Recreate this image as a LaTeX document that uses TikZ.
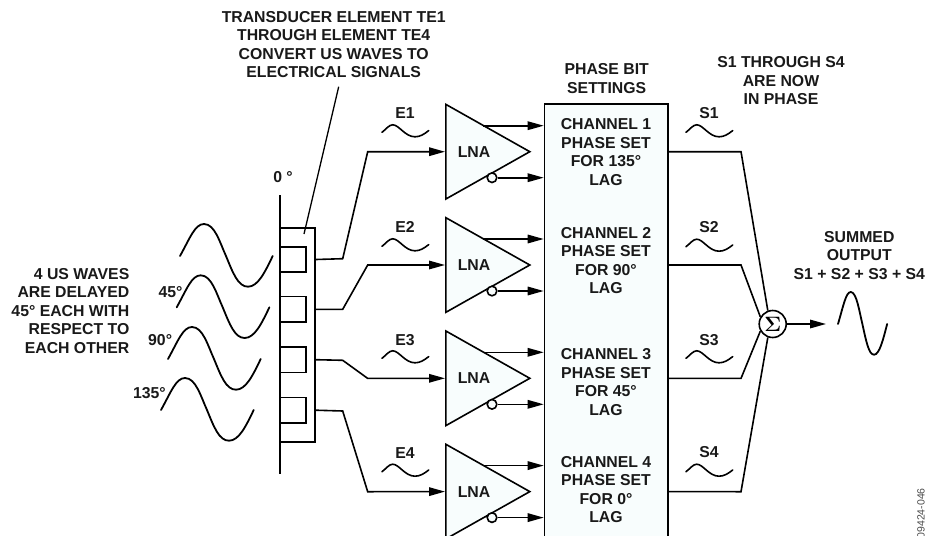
\documentclass[tikz,border=0pt]{standalone}
\usepackage{fontspec}
\setmainfont{Liberation Sans}
\usetikzlibrary{positioning,arrows.meta,shapes.geometric,calc}
\definecolor{myAzure}{RGB}{248,253,253}
\tikzset{
  wire/.style={line width=1.6pt,draw=black},
  signal/.style={wire,-{Triangle[length=16pt,width=8.5pt]}},
  txt/.style={font=\bfseries\fontsize{15.8}{18.5}\selectfont,align=center,inner sep=0pt,text=black!90},
  lna/.style={wire,fill=myAzure,shape=isosceles triangle,isosceles triangle stretches,
    minimum height=84pt,minimum width=94.7pt,inner sep=0pt,anchor=lower side},
  bubble/.style={wire,circle,fill=myAzure,minimum size=9.6pt,inner sep=0pt},
  element/.style={wire,rectangle,minimum width=26pt,minimum height=25.4pt,inner sep=0pt},
  usWave/.pic={\draw[line width=1.8pt,line cap=round] (0,0) .. controls (10,-18) and (15,-32) .. (24,-32)
    .. controls (35,-32) and (40,-13) .. (46,0) .. controls (53,17) and (58,30.7) .. (68,30.7)
    .. controls (78,30.7) and (85,16) .. (92.7,0);},
  tildeWave/.pic={\draw[line width=1.6pt,line cap=round] (0,0) .. controls (4,-3) and (7,-7.5) .. (10.7,-7.5)
    .. controls (17,-7.5) and (23,4.5) .. (33,4.5) .. controls (38,4.5) and (42,2) .. (46.7,-1.7);}
}
\begin{document}
\begin{tikzpicture}[x=1pt,y=-1pt,node distance=113.3pt]
  \useasboundingbox (0,0) rectangle (925,535);
  \coordinate (a1) at (445,151.7);
  \coordinate[below=of a1] (a2);
  \coordinate[below=of a2] (a3);
  \coordinate[below=of a3] (a4);
  \coordinate (axisTop) at (280,195);
  \coordinate (axisEnd) at (280,474);
  \coordinate (leadTop) at (338.7,86.7);
  \coordinate (leadEnd) at (304,234);
  \coordinate (out) at (826,324);

  \node[wire,rectangle,minimum width=35pt,minimum height=214pt,inner sep=0pt] (array) at (297.5,334.7) {};
  \node[element] (te1) at (293,259.5) {};
  \node[element] (te2) at (293,309.3) {};
  \node[element] (te3) at (293,359.7) {};
  \node[element] (te4) at (293,410.2) {};
  \draw[wire] (axisTop) -- (axisEnd);
  \draw[wire,line width=1.3pt] (leadTop) -- (leadEnd);

  \node[wire,rectangle,fill=myAzure,minimum width=123.2pt,minimum height=450pt,inner sep=0pt] (phase) at (606.1,329) {};
  \node[lna] (lna1) at (a1) {};
  \node[lna] (lna2) at (a2) {};
  \node[lna] (lna3) at (a3) {};
  \node[lna] (lna4) at (a4) {};
  \node[txt] at ($(a1)+(29,0)$) {LNA};
  \node[txt] at ($(a2)+(29,0)$) {LNA};
  \node[txt] at ($(a3)+(29,0)$) {LNA};
  \node[txt] at ($(a4)+(29,0)$) {LNA};

  \draw[signal] (array.east |- te1) -- (342.7,258.7) -- (367.7,151.7) -- (lna1.lower side);
  \draw[signal] (array.east |- te2) -- (342.7,309.3) -- (367.7,265) -- (lna2.lower side);
  \draw[signal] (array.east |- te3) -- (342.7,360.3) -- (367.7,378.4) -- (lna3.lower side);
  \draw[signal] (array.east |- te4) -- (342.7,411) -- (367.7,491.7) -- (lna4.lower side);

  \coordinate (up1) at ($(a1)+(38,-26)$);
  \coordinate (up2) at ($(a2)+(38,-26)$);
  \coordinate (up3) at ($(a3)+(38,-26)$);
  \coordinate (up4) at ($(a4)+(38,-26)$);
  \node[bubble] (inv1) at ($(a1)+(47,26)$) {};
  \node[bubble] (inv2) at ($(a2)+(47,26)$) {};
  \node[bubble] (inv3) at ($(a3)+(47,26)$) {};
  \node[bubble] (inv4) at ($(a4)+(47,26)$) {};
  \draw[signal] (up1) -- (up1 -| phase.west);
  \draw[signal] (up2) -- (up2 -| phase.west);
  \draw[signal] (up3) -- (up3 -| phase.west);
  \draw[signal] (up4) -- (up4 -| phase.west);
  \draw[signal] (inv1) -- (inv1 -| phase.west);
  \draw[signal] (inv2) -- (inv2 -| phase.west);
  \draw[signal] (inv3) -- (inv3 -| phase.west);
  \draw[signal] (inv4) -- (inv4 -| phase.west);

  \node[wire,circle,fill=white,minimum size=27pt,inner sep=0pt,font=\boldmath\fontsize{20}{20}\selectfont] (sum) at (772.7,324) {$\Sigma$};
  \draw[wire] (phase.east |- a1) -- (741,151.7) -- (sum.110);
  \draw[wire] (phase.east |- a2) -- (741,265) -- (sum.150);
  \draw[wire] (phase.east |- a3) -- (741,378.4) -- (sum.210);
  \draw[wire] (phase.east |- a4) -- (741,491.7) -- (sum.250);
  \draw[signal] (sum) -- (out);

  \pic at (180,256) {usWave};
  \pic at (176.7,307.3) {usWave};
  \pic at (168,359) {usWave};
  \pic at (161,410) {usWave};
  \pic[xscale=0.53] at (838,324) {usWave};

  \pic at (382,132.3) {tildeWave};
  \pic at (382,246.3) {tildeWave};
  \pic at (382,358.3) {tildeWave};
  \pic at (382,471.7) {tildeWave};
  \pic at (686,132.3) {tildeWave};
  \pic at (686,246.7) {tildeWave};
  \pic at (686,358.3) {tildeWave};
  \pic at (686,471.7) {tildeWave};

  \node[txt] at (405,112.7) {E1};
  \node[txt] at (405,226.7) {E2};
  \node[txt] at (405,339.7) {E3};
  \node[txt] at (405,453) {E4};
  \node[txt] at (709,112.7) {S1};
  \node[txt] at (709,226.7) {S2};
  \node[txt] at (709,339.7) {S3};
  \node[txt] at (709,452) {S4};

  \node[txt] (chan1) at (606,152) {CHANNEL 1\\PHASE SET\\FOR 135\textdegree\\LAG};
  \node[txt] (chan2) at (606,260.5) {CHANNEL 2\\PHASE SET\\FOR 90\textdegree\\LAG};
  \node[txt] (chan3) at (606,382) {CHANNEL 3\\PHASE SET\\FOR 45\textdegree\\LAG};
  \node[txt] (chan4) at (606,489.5) {CHANNEL 4\\PHASE SET\\FOR 0\textdegree\\LAG};

  \node[txt] (transducer) at (333.7,44.7) {TRANSDUCER ELEMENT TE1\\THROUGH ELEMENT TE4\\CONVERT US WAVES TO\\ELECTRICAL SIGNALS};
  \node[txt] (bits) at (606.7,78.5) {PHASE BIT\\SETTINGS};
  \node[txt] (inPhase) at (781,80.7) {S1 THROUGH S4\\ARE NOW\\IN PHASE};
  \node[txt] (summed) at (859.3,255.3) {SUMMED\\OUTPUT\\S1 + S2 + S3 + S4};
  \node[txt,align=right,anchor=east] (delayed) at (129.5,310.8) {4 US WAVES\\ARE DELAYED\\45\textdegree{} EACH WITH\\RESPECT TO\\EACH OTHER};
  \node[txt] (deg0) at (283,176.7) {0 \textdegree};
  \node[txt,anchor=east] (deg45) at (182.7,291.7) {45\textdegree};
  \node[txt,anchor=east] (deg90) at (172.3,340) {90\textdegree};
  \node[txt,anchor=east] (deg135) at (166,392.7) {135\textdegree};
  \node[rotate=90,anchor=east,inner sep=0pt,text=black!70,font=\fontsize{10.5}{10.5}\selectfont] (fig) at (921,488) {09424-046};
\end{tikzpicture}
\end{document}
